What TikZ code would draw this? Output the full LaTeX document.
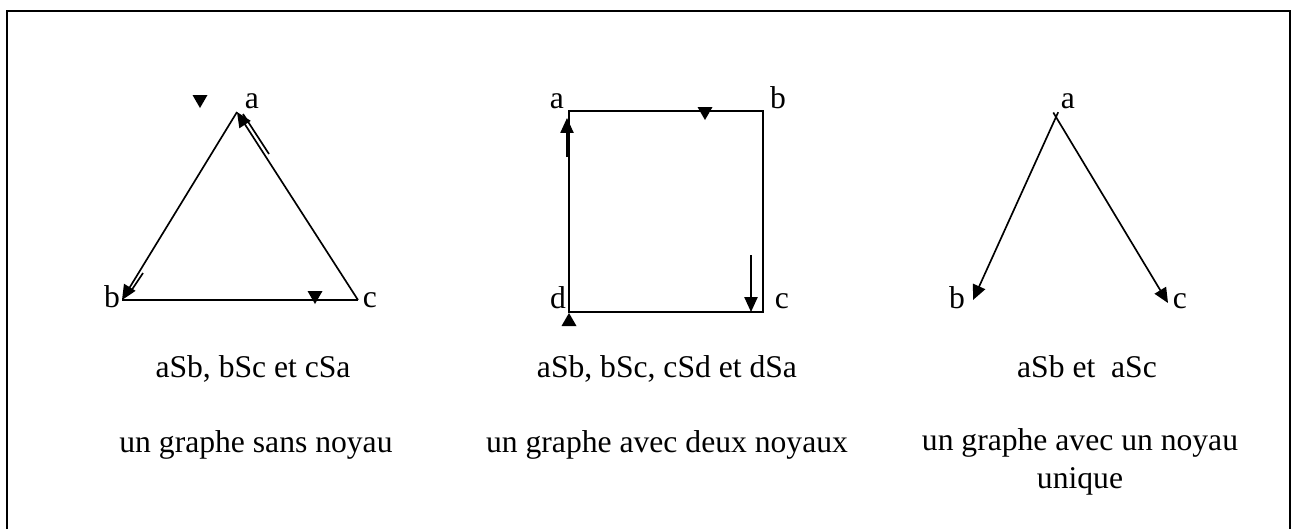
\documentclass[tikz,border=0pt]{standalone}
\usepackage{fontspec}
\setmainfont{Liberation Serif}
\usetikzlibrary{arrows.meta}
\newcommand\tridown[1]{\fill (#1) -- ++(-7.5,-13) -- ++(15,0) -- cycle;}
\newcommand\triup[1]{\fill (#1) -- ++(-7.5,13) -- ++(15,0) -- cycle;}
\begin{document}
\begin{tikzpicture}[x=0.02cm, y=-0.02cm, line width=0.95pt,
  >={Triangle[length=8.5pt,width=7.5pt]},
  lbl/.style={font=\fontsize{18}{21.5}\selectfont, inner sep=0pt, anchor=base}]
\useasboundingbox (0,0) rectangle (1292,529);
\draw[line width=1.1pt] (7,529) -- (7,11) -- (1290,11) -- (1290,529);
% graphe sans noyau
\coordinate (A1) at (237,112);
\coordinate (B1) at (122,300);
\coordinate (C1) at (358,300);
\draw[->] (A1) -- (B1);
\draw (B1) -- (C1);
\draw[->] (C1) -- (A1);
\draw (243,114) -- (269,154);
\draw (143,273) -- (129,294);
\tridown{200,108}
\tridown{315,304}
\node[lbl] (a1) at (252,108) {a};
\node[lbl] (b1) at (112,307) {b};
\node[lbl] (c1) at (370,307) {c};
\node[lbl] (r1) at (253,377) {aSb, bSc et cSa};
\node[lbl] (t1) at (256,452) {un graphe sans noyau};
% graphe avec deux noyaux
\coordinate (A2) at (569,111);
\coordinate (B2) at (763,111);
\coordinate (C2) at (763,312);
\coordinate (D2) at (569,312);
\draw (A2) -- (B2) -- (C2) -- (D2) -- cycle;
\draw[->] (567,157) -- (567,118);
\draw[->] (751,255) -- (751,312);
\tridown{705,120}
\triup{569,313}
\node[lbl] (a2) at (557,108) {a};
\node[lbl] (b2) at (778,108) {b};
\node[lbl] (c2) at (782,308) {c};
\node[lbl] (d2) at (558,308) {d};
\node[lbl] (r2) at (667,377) {aSb, bSc, cSd et dSa};
\node[lbl] (t2) at (667,452) {un graphe avec deux noyaux};
% graphe avec un noyau unique
\coordinate (A3) at (1056,117);
\coordinate (B3) at (973,300);
\coordinate (C3) at (1168,303);
\draw[->, shorten <=-3pt] (A3) -- (B3);
\draw[->, shorten <=-3pt] (A3) -- (C3);
\node[lbl] (a3) at (1068,108) {a};
\node[lbl] (b3) at (957,308) {b};
\node[lbl] (c3) at (1180,308) {c};
\node[lbl] (r3) at (1087,377) {aSb et\ \ aSc};
\node[lbl] (t3) at (1080,450) {un graphe avec un noyau};
\node[lbl] (u3) at (1080,488) {unique};
\end{tikzpicture}
\end{document}
